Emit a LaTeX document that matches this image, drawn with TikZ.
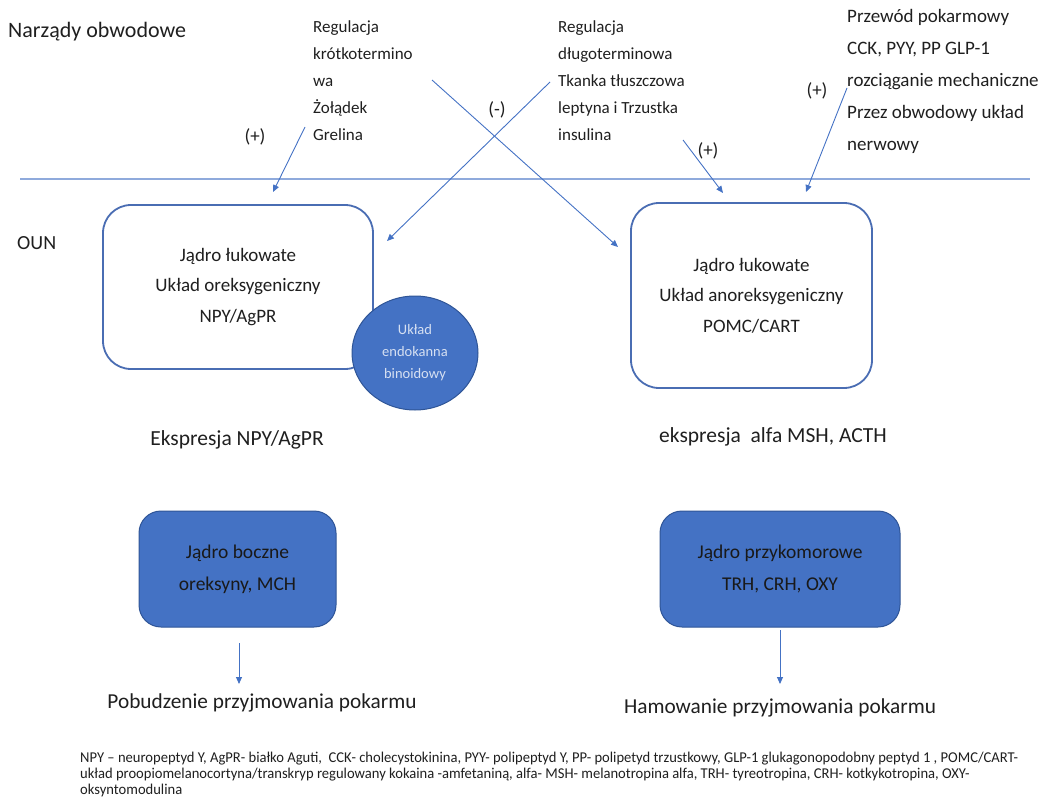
\documentclass[tikz,border=0pt]{standalone}
\usepackage{fontspec}
\usepackage{graphicx}
\setmainfont{Carlito}
\usetikzlibrary{arrows.meta,shapes.geometric}
\definecolor{ob}{HTML}{4472C4}
\definecolor{obb}{HTML}{4A6DB3}
\definecolor{obd}{HTML}{2F5597}
\definecolor{hl}{HTML}{8FAADC}
\definecolor{tx}{HTML}{1F1F1F}
\definecolor{ctx}{HTML}{D6E0F2}
\newlength\fnw
\newcommand\fnlineone{NPY – neuropeptyd Y, AgPR- białko Aguti,\ \ CCK- cholecystokinina, PYY- polipeptyd Y, PP- polipetyd trzustkowy, GLP-1 glukagonopodobny peptyd 1 , POMC/CART-}
\begin{document}
\settowidth{\fnw}{\fontsize{15}{16}\selectfont \fnlineone}%
\pgfmathsetmacro\fnfac{938/\fnw}%
\begin{tikzpicture}[x=1pt,y=-1pt,
  every node/.style={text=tx, inner sep=0pt},
  conn/.style={draw=ob, line width=0.9pt, -{Triangle[length=7pt,width=6pt]}},
  sign/.style={font=\fontsize{19}{22}\selectfont},
  toptext/.style={anchor=west, align=left, font=\fontsize{17}{27}\selectfont},
  whitebox/.style={draw=obb, line width=1.8pt, rounded corners=28pt, fill=white,
    align=center, font=\fontsize{19}{30.5}\selectfont},
  bluebox/.style={draw=obd, line width=1pt, fill=ob, rounded corners=22pt,
    align=center, text=black!90, font=\fontsize{19.5}{32}\selectfont},
  label/.style={font=\fontsize{21.5}{24}\selectfont},
  biglabel/.style={font=\fontsize{21.3}{25}\selectfont},
  fn/.style={anchor=base west}
]
\useasboundingbox (0,0) rectangle (1047,805);

% headings
\node[anchor=west, font=\fontsize{22}{26}\selectfont] (nar) at (8,32) {Narządy obwodowe};
\node[anchor=west, font=\fontsize{20}{24}\selectfont] (oun) at (17,243) {OUN};

% separator line
\coordinate (sepL) at (20,179);
\coordinate (sepR) at (1030,179);
\draw[hl, line width=1.5pt] (sepL) -- (sepR);

% top texts
\node[toptext] (short) at (313,81) {Regulacja\\krótkotermino\\wa\\Żołądek\\Grelina};
\node[toptext] (long) at (558,81) {Regulacja\\długoterminowa\\Tkanka tłuszczowa\\leptyna i Trzustka\\insulina};
\node[anchor=west, align=left, font=\fontsize{19}{32}\selectfont] (gut) at (847,81)
  {Przewód pokarmowy\\CCK, PYY, PP GLP-1\\rozciąganie mechaniczne\\Przez obwodowy układ\\nerwowy};

% signs
\node[sign] (s1) at (255,137) {(+)};
\node[sign] (s2) at (497,110) {(-)};
\node[sign] (s3) at (708,151) {(+)};
\node[sign] (s4) at (817,91) {(+)};

% CNS boxes
\node[whitebox, minimum width=270pt, minimum height=164pt] (arcL) at (238,287)
  {Jądro łukowate\\Układ oreksygeniczny\\NPY/AgPR};
\node[whitebox, minimum width=241pt, minimum height=185pt] (arcR) at (751.5,295.5)
  {Jądro łukowate\\Układ anoreksygeniczny\\POMC/CART};
\node[ellipse, draw=obd, line width=1pt, fill=ob, minimum width=126pt, minimum height=114pt,
  align=center, text=ctx, font=\fontsize{14.5}{22}\selectfont] (endo) at (415,353)
  {Układ\\endokanna\\binoidowy};

% arrows from periphery
\coordinate (a1s) at (305,127); \coordinate (a1e) at (273,192);
\coordinate (a2s) at (432,80);  \coordinate (a2e) at (618,247);
\coordinate (a3s) at (550,82);  \coordinate (a3e) at (387,241);
\coordinate (a4s) at (683,140); \coordinate (a4e) at (723,193);
\coordinate (a5s) at (847,88);  \coordinate (a5e) at (806,192);
\draw[conn] (a1s) -- (a1e);
\draw[conn] (a2s) -- (a2e);
\draw[conn] (a3s) -- (a3e);
\draw[conn] (a4s) -- (a4e);
\draw[conn] (a5s) -- (a5e);

% expression labels
\node[label] (exL) at (237,440) {Ekspresja NPY/AgPR};
\node[label] (exR) at (773,437) {ekspresja\ \ alfa MSH, ACTH};

% hypothalamic nuclei
\node[bluebox, minimum width=197pt, minimum height=116pt] (lat) at (237.5,569)
  {Jądro boczne\\oreksyny, MCH};
\node[bluebox, minimum width=240pt, minimum height=116pt] (pvn) at (780,569)
  {Jądro przykomorowe\\TRH, CRH, OXY};

% outcomes
\node[biglabel] (stim) at (262,703) {Pobudzenie przyjmowania pokarmu};
\node[biglabel] (inh) at (780,708) {Hamowanie przyjmowania pokarmu};
\coordinate (b1s) at (239,643); \coordinate (b1e) at (239,684);
\coordinate (b2s) at (780,630); \coordinate (b2e) at (780,684);
\draw[conn] (b1s) -- (b1e);
\draw[conn] (b2s) -- (b2e);

% footnote
\node[fn] (fn1) at (80,762) {\scalebox{\fnfac}[1]{\fontsize{15}{16}\selectfont \fnlineone}};
\node[fn] (fn2) at (80,778) {\scalebox{\fnfac}[1]{\fontsize{15}{16}\selectfont układ proopiomelanocortyna/transkryp regulowany kokaina -amfetaniną, alfa- MSH- melanotropina alfa, TRH- tyreotropina, CRH- kotkykotropina, OXY-}};
\node[fn] (fn3) at (80,794) {\scalebox{\fnfac}[1]{\fontsize{15}{16}\selectfont oksyntomodulina}};
\end{tikzpicture}
\end{document}
